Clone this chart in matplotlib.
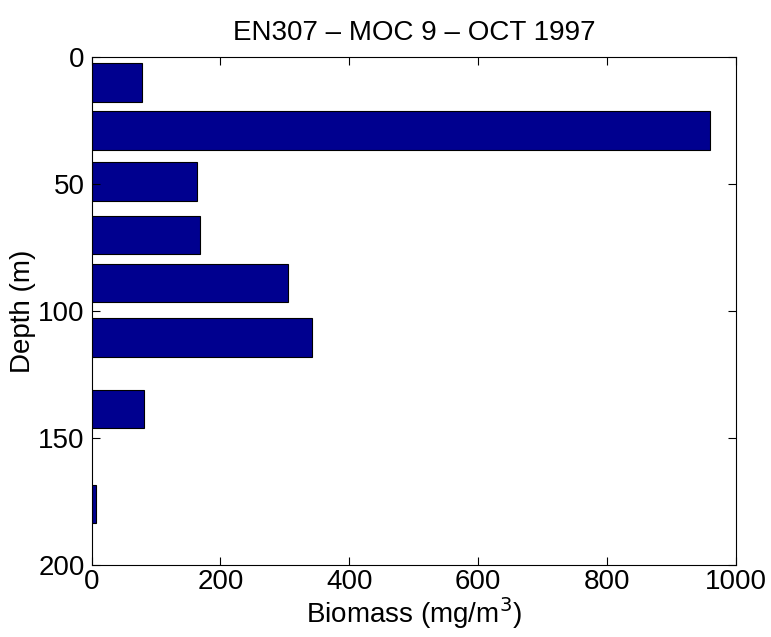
import matplotlib
matplotlib.use("Agg")
import matplotlib.pyplot as plt

# depth bins (center, m) and biomass values
depth = [10, 29, 49, 70, 89, 110.5, 138.5, 176]
biomass = [78, 960, 163, 168, 305, 342, 82, 7.5]
xticks = [0, 200, 400, 600, 800, 1000]
yticks = [0, 50, 100, 150, 200]

plt.rcParams['font.family'] = ['Liberation Sans', 'DejaVu Sans']

fig = plt.figure(figsize=(7.71, 6.37), dpi=100)
ax = fig.add_axes([0.1187, 0.113, 0.8359, 0.7975])

ax.barh(depth, biomass, height=15.2, color='#00008f', edgecolor='black', linewidth=0.8)

ax.set_xlim(0, 1000)
ax.set_ylim(200, 0)
ax.set_xticks(xticks)
ax.set_yticks(yticks)
ax.tick_params(direction='in', length=6, width=0.8, labelsize=20, top=True, right=True)
ax.tick_params(axis='x', pad=3)
ax.tick_params(axis='y', pad=5)
for s in ax.spines.values():
    s.set_linewidth(0.8)

ax.set_title('EN307 \u2013 MOC 9 \u2013 OCT 1997', fontsize=20, pad=12)
ax.set_xlabel('Biomass (mg/m$^3$)', fontsize=20)
ax.set_ylabel('Depth (m)', fontsize=20)
ax.xaxis.set_label_coords(0.5, -0.095)
ax.yaxis.set_label_coords(-0.106, 0.5)
ax.xaxis.label.set_va('center')
ax.yaxis.label.set_va('center')

fig.savefig('out.png', dpi=100)
